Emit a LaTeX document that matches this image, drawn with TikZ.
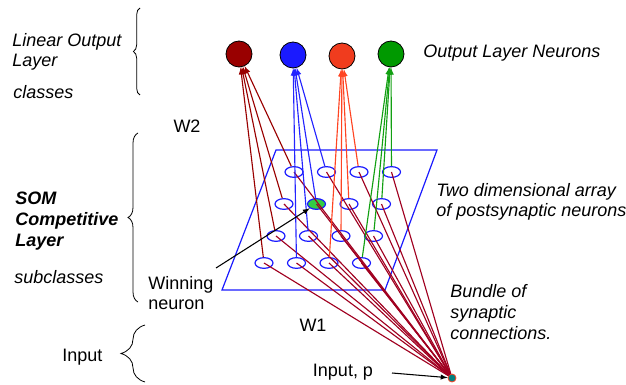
\documentclass[tikz,border=0pt]{standalone}
\usepackage{fontspec}
\setmainfont{Liberation Sans}
\usetikzlibrary{shapes.geometric,decorations.pathreplacing}

\definecolor{cDarkRed}{HTML}{990000}
\definecolor{cBlue}{HTML}{1A1AFF}
\definecolor{cOrange}{HTML}{F03C1E}
\definecolor{cGreen}{HTML}{009900}
\definecolor{cWin}{HTML}{33CC44}
\definecolor{cTeal}{HTML}{008080}
\definecolor{lBundle}{HTML}{A00020}
\definecolor{lBlue}{HTML}{2424FF}
\definecolor{lOrange}{HTML}{FF4422}
\definecolor{lGreen}{HTML}{12A012}

\tikzset{
  outneuron/.style={draw=black,circle,minimum size=19.5pt,inner sep=0pt,line width=0.6pt},
  gridneuron/.style={draw=cBlue,ellipse,minimum width=13.5pt,minimum height=8pt,inner sep=0pt,line width=0.9pt},
  grid22/.style={fill=cWin},
  txt/.style={font=\fontsize{13.5}{15.5}\selectfont,align=left,anchor=west,inner sep=0pt},
  itxt/.style={txt,font=\fontsize{13.5}{15.5}\selectfont\itshape},
  layerbrace/.style={decorate,decoration={brace,amplitude=#1},line width=0.6pt}
}

\begin{document}
\begin{tikzpicture}[x=0.75pt,y=-0.75pt,>=latex]
    \useasboundingbox (0,0) rectangle (626,385);
    % output layer
    \node[outneuron,fill=cDarkRed] (o1) at (239,54) {};
    \node[outneuron,fill=cBlue] (o2) at (293,55) {};
    \node[outneuron,fill=cOrange] (o3) at (342,56) {};
    \node[outneuron,fill=cGreen] (o4) at (391,54) {};
    % SOM plane
    \draw[cBlue,line width=0.9pt] (276,150) -- (437,150) -- (385,290) -- (222,290) -- cycle;
    \foreach \r/\y/\x in {1/172/294,2/204/284,3/236/276,4/263/264}
      \foreach \c in {1,...,4}
        \node[gridneuron,grid\r\c/.try] (n\r\c) at (\x+32.5*\c-32.5,\y) {};
    % input
    \node[draw=lOrange,fill=cTeal,circle,minimum size=6pt,inner sep=0pt,line width=0.6pt] (p) at (452,378) {};
    \foreach \r in {1,...,4}
      \foreach \c in {1,...,4}
        \draw[lBundle,line width=0.85pt] (p) -- (n\r\c.center);
    \foreach \c/\col in {1/cDarkRed,2/lBlue,3/lOrange,4/lGreen}
      \foreach \r in {1,...,4}
        \draw[\col,line width=0.85pt,->] (n\r\c) -- (o\c);
    % labels
    \node[itxt] (lin) at (12,52) {Linear Output\\Layer};
    \node[itxt] (cls) at (13,92) {classes};
    \node[txt,anchor=center] (w2) at (187,126) {W2};
    \node[txt,font=\fontsize{13.5}{15.5}\selectfont\bfseries\itshape] (som) at (15,221) {SOM\\Competitive\\Layer};
    \node[itxt] (sub) at (14,277) {subclasses};
    \node[txt] (win) at (148,293) {Winning\\neuron};
    \node[itxt] (outl) at (423,53) {Output Layer Neurons};
    \node[itxt] (arr) at (436,202) {Two dimensional array\\of postsynaptic neurons};
    \node[itxt] (bun) at (450,312) {Bundle of\\synaptic\\connections.};
    \node[txt,anchor=center] (w1) at (313,325) {W1};
    \node[txt] (inl) at (62,357) {Input};
    \node[txt,anchor=center] (inp) at (343,372) {Input, p};
    \coordinate (wtail) at (216,268);
    \coordinate (ptail) at (392,373);
    \draw[->,line width=0.8pt] (wtail) -- (n22);
    \draw[->,line width=0.8pt] (ptail) -- (p);
    % braces
    \draw[layerbrace=5pt] (140,95) -- (140,8);
    \draw[layerbrace=7.5pt] (138,302) -- (138,133);
    \draw[layerbrace=18pt] (145,382) -- (145,325);
\end{tikzpicture}
\end{document}
